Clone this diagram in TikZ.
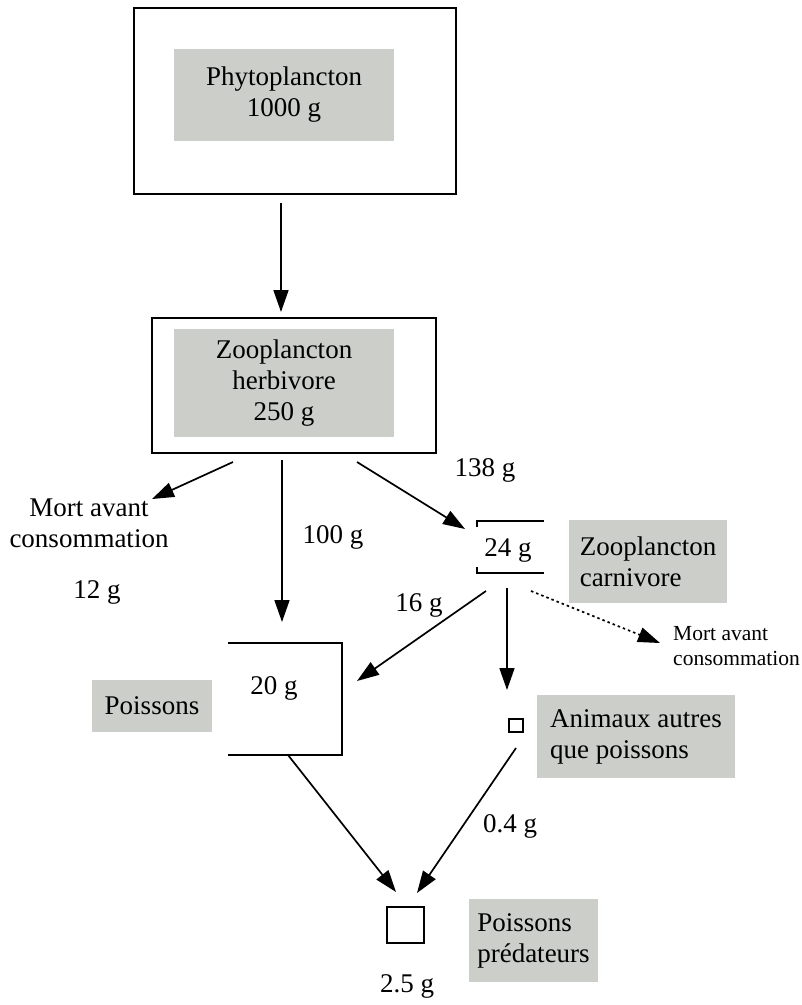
\documentclass[tikz,border=0pt]{standalone}
\usepackage{fontspec}
\setmainfont{Liberation Serif}
\usetikzlibrary{arrows.meta}
\definecolor{boxgrey}{RGB}{203,206,201}
\tikzset{
  flow/.style={line width=1.7pt,-{Triangle[length=22pt,width=15pt]}},
  dotflow/.style={flow,dash pattern=on 2.5pt off 3pt},
  greybox/.style={fill=boxgrey,inner sep=0pt,align=center},
  boxline/.style={draw,line width=1.7pt,inner sep=0pt},
  txt/.style={inner sep=0pt,align=center},
  smalltxt/.style={inner sep=0pt,align=left,font=\fontsize{21.5}{25}\selectfont}
}

\begin{document}
\begin{tikzpicture}[x=1pt,y=1pt,yscale=-1,font=\fontsize{27}{31}\selectfont]
\useasboundingbox (0,0) rectangle (802,1005);

% Box Node
\node [boxline,minimum width=322,minimum height=186] (phytobox) at (295,101) {};
% Text Node
\node [greybox,minimum width=220,minimum height=92] (phyto) at (284,95) {Phytoplancton\\1000 g};
% Box Node
\node [boxline,minimum width=284,minimum height=135] (herbbox) at (294,385.5) {};
% Text Node
\node [greybox,minimum width=220,minimum height=108] (herb) at (284,383) {Zooplancton\\herbivore\\250 g};

% Text Node
\node [txt] (mortl) at (89,523) {Mort avant\\consommation};
% Text Node
\node [txt] (mortlval) at (97,592) {12 g};
% Text Node
\node [txt] (herbfish) at (333,537) {100 g};
% Text Node
\node [txt] (herbcarn) at (485,470) {138 g};

% Bracket Node
\node [txt] (carnval) at (508,550) {24 g};
\draw [line width=1.7pt] (477,527) -- (477,521) -- (544,521);
\draw [line width=1.7pt] (477,567) -- (477,573) -- (544,573);
% Text Node
\node [greybox,align=left,minimum width=158,minimum height=83] (carn) at (648,561.5) {Zooplancton\\carnivore};
% Text Node
\node [txt] (carnfish) at (419,605) {16 g};
% Text Node
\node [smalltxt,anchor=west] (mortr) at (673,646.5) {Mort avant\\consommation};

% Box Node
\draw [line width=1.7pt] (228,643) -- (342,643) -- (342,755) -- (228,755);
\node [txt] (fishval) at (274,688) {20 g};
% Text Node
\node [greybox,minimum width=120,minimum height=52] (fish) at (152,706) {Poissons};

% Box Node
\node [boxline,minimum width=14,minimum height=13] (animsq) at (516,725.5) {};
% Text Node
\node [greybox,align=left,minimum width=198,minimum height=83] (anim) at (636,736.5) {Animaux autres\\que poissons};
% Text Node
\node [txt] (animval) at (510,826) {0.4 g};

% Box Node
\node [boxline,minimum width=37,minimum height=36] (predsq) at (405.5,925) {};
% Text Node
\node [greybox,align=left,minimum width=129,minimum height=83] (pred) at (533.5,940.5) {Poissons\\prédateurs};
% Text Node
\node [txt] (predval) at (407,986) {2.5 g};

% Connection ends
\coordinate (phyto-out) at (281,203);
\coordinate (herb-in) at (281,312);
\coordinate (herb-l) at (233,462);
\coordinate (mortl-in) at (152,499);
\coordinate (herb-m) at (282,460);
\coordinate (fish-in) at (282,622);
\coordinate (herb-r) at (357,462);
\coordinate (carn-in) at (465,529);
\coordinate (carn-l) at (486,591);
\coordinate (fish-r) at (357,681);
\coordinate (carn-m) at (507,588);
\coordinate (anim-in) at (507,690);
\coordinate (carn-r) at (531,591);
\coordinate (mortr-in) at (660,643);
\coordinate (fish-out) at (288,755);
\coordinate (pred-l) at (396,892);
\coordinate (anim-out) at (516,748);
\coordinate (pred-r) at (417,893);

% Connection
\draw [flow] (phyto-out) -- (herb-in);
% Connection
\draw [flow] (herb-l) -- (mortl-in);
% Connection
\draw [flow] (herb-m) -- (fish-in);
% Connection
\draw [flow] (herb-r) -- (carn-in);
% Connection
\draw [flow] (carn-l) -- (fish-r);
% Connection
\draw [flow] (carn-m) -- (anim-in);
% Connection
\draw [dotflow] (carn-r) -- (mortr-in);
% Connection
\draw [flow] (fish-out) -- (pred-l);
% Connection
\draw [flow] (anim-out) -- (pred-r);

\end{tikzpicture}
\end{document}
